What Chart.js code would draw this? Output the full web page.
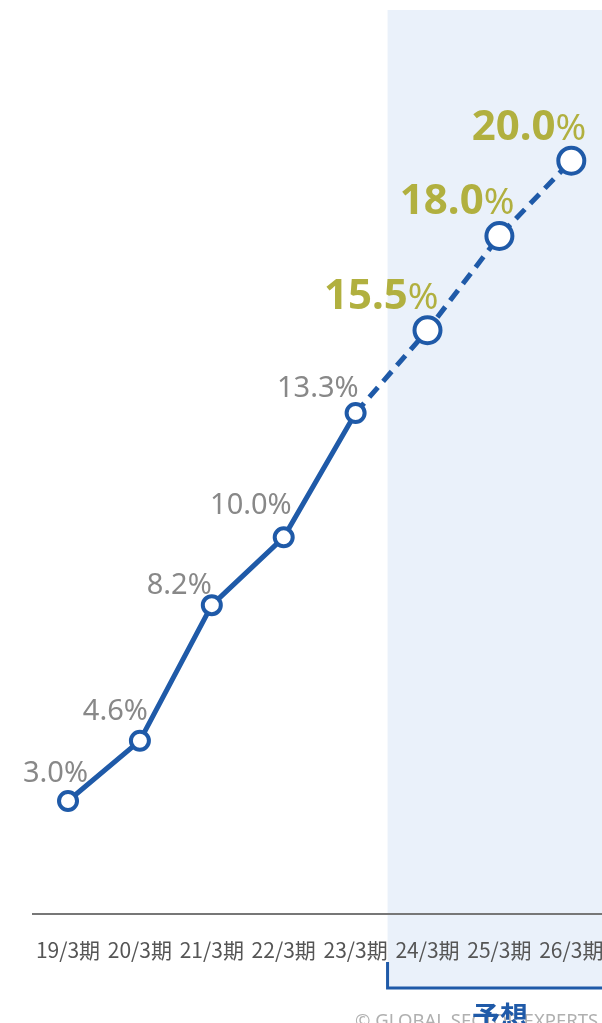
<!DOCTYPE html>
<html>
<head>
<meta charset="utf-8">
<script src="https://cdn.jsdelivr.net/npm/chart.js@4"></script>
<style>
  html, body { margin: 0; padding: 0; background: #fff; overflow: hidden; }
  #wrap { width: 602px; height: 1023px; position: relative; overflow: hidden; }
  #wrap canvas { display: block; }
</style>
</head>
<body>
<div id="wrap"><canvas id="chart"></canvas></div>
<script>
// data
const periods = ['19/3期', '20/3期', '21/3期', '22/3期', '23/3期', '24/3期', '25/3期', '26/3期'];
const ratios = [3.0, 4.6, 8.2, 10.0, 13.3, 15.5, 18.0, 20.0];
const firstForecast = 5; // 24/3期 onward is forecast

// label placement relative to each point [dx, dy] (right edge / baseline)
const labelOffsets = [[20, 19], [8, 21], [0, 11], [8, 23], [3, 16], [11, 21], [15, 22], [15, 21]];

const BLUE = '#1f5aa8';
const OLIVE = '#b1b03f';
const SHADE = '#eaf1fa';

function forecastLeft(x) {
  return (x.getPixelForValue(firstForecast - 1) + x.getPixelForValue(firstForecast)) / 2 - 4;
}

const forecastPlugin = {
  id: 'forecast',
  beforeDraw(chart) {
    const { ctx, scales: { x }, chartArea } = chart;
    const left = forecastLeft(x);
    ctx.save();
    ctx.fillStyle = SHADE;
    ctx.fillRect(left, chartArea.top, chart.width - left, 988 - chartArea.top);
    ctx.restore();
  },
  afterDraw(chart) {
    const { ctx, scales: { x } } = chart;
    const left = forecastLeft(x);
    ctx.save();
    // bracket under forecast periods
    ctx.strokeStyle = BLUE;
    ctx.lineWidth = 3;
    ctx.beginPath();
    ctx.moveTo(left, 962);
    ctx.lineTo(left, 988);
    ctx.lineTo(chart.width, 988);
    ctx.stroke();
    // copyright
    ctx.fillStyle = '#b0b0b0';
    ctx.font = '18.5px "Noto Sans"';
    ctx.textAlign = 'left';
    ctx.textBaseline = 'alphabetic';
    ctx.fillText('© GLOBAL SECTOR EXPERTS', 355, 1027);
    // forecast caption
    ctx.fillStyle = BLUE;
    ctx.font = 'bold 28px "Noto Sans CJK JP"';
    ctx.textAlign = 'center';
    ctx.fillText('予想', 500, 1027);
    ctx.restore();
  },
  afterDatasetsDraw(chart) {
    const { ctx } = chart;
    const meta = chart.getDatasetMeta(0);
    ctx.save();
    ctx.textBaseline = 'alphabetic';
    ctx.textAlign = 'left';
    meta.data.forEach((pt, i) => {
      const [dx, dy] = labelOffsets[i];
      const right = pt.x + dx;
      const base = pt.y - dy;
      const num = ratios[i].toFixed(1);
      if (i >= firstForecast) {
        ctx.font = 'bold 42px "Noto Sans"';
        const w1 = ctx.measureText(num).width;
        ctx.font = '37px "Noto Sans"';
        const w2 = ctx.measureText('%').width;
        ctx.fillStyle = OLIVE;
        ctx.font = 'bold 42px "Noto Sans"';
        ctx.fillText(num, right - w1 - w2, base);
        ctx.font = '37px "Noto Sans"';
        ctx.fillText('%', right - w2, base);
      } else {
        ctx.font = '29px "Noto Sans"';
        ctx.fillStyle = '#888888';
        const w = ctx.measureText(num + '%').width;
        ctx.fillText(num + '%', right - w, base);
      }
    });
    ctx.restore();
  }
};

new Chart(document.getElementById('chart'), {
  type: 'line',
  data: {
    datasets: [{
      data: ratios.map((v, i) => ({ x: i, y: v })),
      borderColor: BLUE,
      borderWidth: 5,
      segment: {
        borderDash: c => c.p0DataIndex >= firstForecast - 1 ? [13, 8] : undefined
      },
      pointRadius: ratios.map((v, i) => i >= firstForecast ? 13 : 9),
      pointBorderWidth: 4,
      pointBackgroundColor: '#ffffff',
      pointBorderColor: BLUE,
      tension: 0,
      clip: false
    }]
  },
  options: {
    responsive: true,
    maintainAspectRatio: false,
    animation: false,
    events: [],
    layout: { autoPadding: false, padding: { left: 33, right: 0, top: 10, bottom: 59 } },
    plugins: { legend: { display: false }, tooltip: { enabled: false } },
    scales: {
      x: {
        type: 'linear',
        min: -0.487,
        max: 7.427,
        grid: { display: false, drawTicks: false },
        border: { display: true, color: '#777777', width: 2 },
        afterBuildTicks: axis => { axis.ticks = periods.map((p, i) => ({ value: i })); },
        afterFit: axis => {
          // labels may hang past the plot edges like the original
          axis.paddingLeft = 0;
          axis.paddingRight = 0;
          axis.height = 50;
        },
        ticks: {
          autoSkip: false,
          maxRotation: 0,
          padding: 23,
          color: '#555555',
          font: { family: '"Noto Sans CJK JP"', size: 21 },
          callback: v => periods[v]
        }
      },
      y: {
        display: false,
        min: 0,
        max: 24
      }
    }
  },
  plugins: [forecastPlugin]
});
</script>
</body>
</html>
